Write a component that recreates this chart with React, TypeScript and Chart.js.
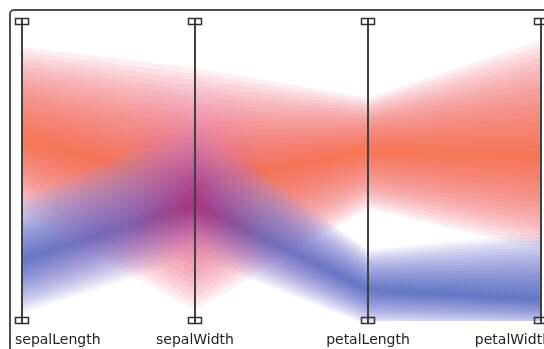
import React, { useEffect, useRef } from "react";
import { Chart, registerables } from "chart.js";

Chart.register(...registerables);

// Parallel-coordinate axes
const axisNames = ["sepalLength", "sepalWidth", "petalLength", "petalWidth"];

// Cluster profiles, in % of each axis range (0 = bottom marker, 100 = top marker)
const redUpper = [91.3, 84.3, 74.3, 93.7];
const redCenter = [60.3, 45.3, 57.0, 54.7];
const redLower = [35.3, 3.7, 37.7, 23.7];

const blueUpper = [41.0, 66.0, 23.7, 29.3];
const blueCenter = [20.3, 38.7, 10.3, 7.0];
const blueLower = [2.7, 21.0, -1.3, -2.3];

// ---- styling ----
const LAYERS = 20;
// colour stops along the x range (fraction of plot width)
const stopPos = [0, 0.2, 1 / 3, 0.47, 2 / 3, 1];
const redAlphaOuter = [0.12, 0.12, 0.12, 0.12, 0.12, 0.12];
const redAlphaInner = [0.12, 0.12, 0.12, 0.12, 0.12, 0.12];
const redOuter = [[242, 125, 140], [242, 125, 140], [240, 120, 145], [242, 125, 140], [242, 125, 140], [242, 125, 140]];
const redMid = [[242, 112, 92], [241, 110, 95], [225, 85, 125], [241, 110, 95], [242, 112, 92], [242, 112, 92]];
const redInner = [[242, 100, 45], [240, 95, 50], [205, 45, 100], [240, 95, 50], [242, 100, 45], [242, 100, 45]];
const blueAlphaOuter = [0.11, 0.09, 0.05, 0.09, 0.11, 0.11];
const blueAlphaInner = [0.11, 0.1, 0.13, 0.1, 0.11, 0.11];
const blueOuter = [[150, 150, 220], [160, 140, 215], [205, 140, 200], [155, 142, 215], [150, 150, 220], [150, 150, 220]];
const blueMid = [[100, 115, 200], [120, 95, 185], [150, 60, 150], [110, 100, 192], [100, 115, 200], [100, 115, 200]];
const blueInner = [[60, 88, 178], [85, 72, 168], [160, 18, 90], [72, 80, 172], [60, 88, 178], [60, 88, 178]];

function mixColor(a: number[], b: number[], t: number) {
  return a.map((v, i) => Math.round(v + (b[i] - v) * t));
}

function layerColor(outer: number[], mid: number[], inner: number[], t: number) {
  return t < 0.5 ? mixColor(outer, mid, t * 2) : mixColor(mid, inner, t * 2 - 1);
}

function bandFill(
  outer: number[][],
  mid: number[][],
  inner: number[][],
  alphaOuter: number[],
  alphaInner: number[],
  t: number
) {
  return (ctx: any) => {
    const chart = ctx.chart;
    const area = chart.chartArea;
    const cols = outer.map((o, i) => layerColor(o, mid[i], inner[i], t));
    const alphas = alphaOuter.map((a, i) => a + (alphaInner[i] - a) * t);
    if (!area) return `rgba(${cols[0].join(",")},${alphas[0]})`;
    const g = chart.ctx.createLinearGradient(area.left, 0, area.right, 0);
    cols.forEach((c, i) =>
      g.addColorStop(stopPos[i], `rgba(${c.join(",")},${alphas[i].toFixed(3)})`)
    );
    return g;
  };
}

// innermost layer first in the array (Chart.js paints index 0 last, i.e. on top)
function buildBands(
  upper: number[],
  center: number[],
  lower: number[],
  outer: number[][],
  mid: number[][],
  inner: number[][],
  alphaOuter: number[],
  alphaInner: number[]
) {
  const ds: any[] = [];
  for (let k = LAYERS - 1; k >= 0; k--) {
    const f = (LAYERS - k) / LAYERS;
    const t = k / (LAYERS - 1);
    const common = {
      borderColor: "transparent",
      borderWidth: 0,
      pointRadius: 0,
      pointHoverRadius: 0,
      tension: 0,
      clip: { left: 0, top: 0, right: 0, bottom: 4 },
    };
    ds.push({
      ...common,
      data: center.map((c, i) => c + (upper[i] - c) * f),
      fill: "+1",
      backgroundColor: bandFill(outer, mid, inner, alphaOuter, alphaInner, t),
    });
    ds.push({
      ...common,
      data: center.map((c, i) => c - (c - lower[i]) * f),
      fill: false,
      backgroundColor: "transparent",
    });
  }
  return ds;
}

const whiteBg = {
  id: "whiteBg",
  beforeDraw(chart: any) {
    const ctx = chart.ctx;
    ctx.save();
    ctx.fillStyle = "#ffffff";
    ctx.fillRect(0, 0, chart.width, chart.height);
    ctx.restore();
  },
};

const axesOverlay = {
  id: "axesOverlay",
  afterDraw(chart: any) {
    const ctx = chart.ctx;
    const xs = chart.scales.x;
    const area = chart.chartArea;
    ctx.save();
    // outer frame
    ctx.strokeStyle = "#505050";
    ctx.lineWidth = 2;
    ctx.beginPath();
    ctx.moveTo(10, chart.height + 5);
    ctx.lineTo(10, 14);
    ctx.arcTo(10, 10, 14, 10, 4);
    ctx.lineTo(chart.width + 5, 10);
    ctx.stroke();

    ctx.font = "14px 'DejaVu Sans', sans-serif";
    ctx.textBaseline = "alphabetic";
    axisNames.forEach((name, i) => {
      const x = Math.round(xs.getPixelForValue(i));
      // axis line
      ctx.strokeStyle = "#404040";
      ctx.lineWidth = 2;
      ctx.beginPath();
      ctx.moveTo(x, area.top - 3);
      ctx.lineTo(x, area.bottom + 3);
      ctx.stroke();
      // end markers
      ctx.lineWidth = 1.5;
      ctx.strokeStyle = "#303030";
      ctx.strokeRect(x - 6.5, area.top - 2.5, 13, 6);
      ctx.strokeRect(x - 6.5, area.bottom - 3.5, 13, 6);
      // label
      const w = ctx.measureText(name).width;
      let left = x - w / 2;
      left = Math.max(left, 15);
      left = Math.min(left, 551 - w);
      ctx.fillStyle = "#222222";
      ctx.fillText(name, left, 344);
    });
    ctx.restore();
  },
};

export default function App() {
  const ref = useRef<HTMLCanvasElement | null>(null);
  useEffect(() => {
    if (!ref.current) return;
    const datasets = [
      ...buildBands(blueUpper, blueCenter, blueLower, blueOuter, blueMid, blueInner, blueAlphaOuter, blueAlphaInner),
      ...buildBands(redUpper, redCenter, redLower, redOuter, redMid, redInner, redAlphaOuter, redAlphaInner),
    ];
    const chart = new Chart(ref.current, {
      type: "line",
      data: { labels: axisNames, datasets },
      options: {
        animation: false,
        responsive: false,
        devicePixelRatio: 1,
        layout: { padding: { left: 22, right: 3, top: 21, bottom: 28 } },
        scales: {
          x: { type: "category", display: false, offset: false },
          y: { type: "linear", display: false, min: 0, max: 100 },
        },
        plugins: {
          legend: { display: false },
          tooltip: { enabled: false },
          filler: { propagate: false },
        },
        events: [],
      },
      plugins: [whiteBg, axesOverlay],
    } as any);
    return () => chart.destroy();
  }, []);
  return (
    <div style={{ position: "fixed", left: 0, top: 0, width: 544, height: 349 }}>
      <canvas ref={ref} width={544} height={349} style={{ display: "block" }} />
    </div>
  );
}
